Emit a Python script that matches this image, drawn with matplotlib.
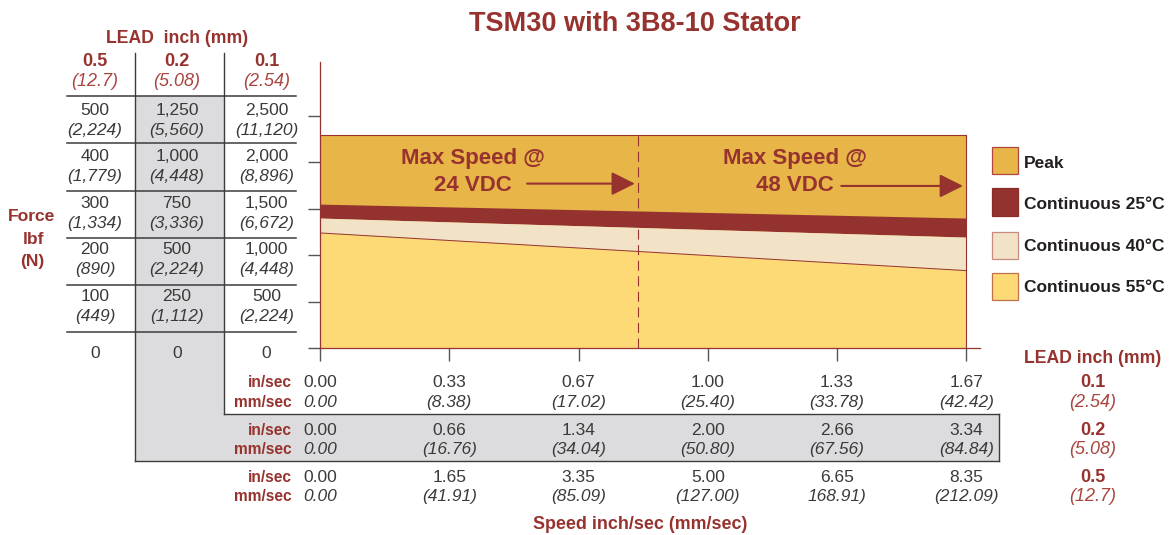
import matplotlib
matplotlib.use('Agg')
import matplotlib.pyplot as plt
from matplotlib.transforms import Affine2D, blended_transform_factory, offset_copy
from matplotlib.patches import Rectangle
from matplotlib.lines import Line2D
from matplotlib import font_manager

# ---------------- data ----------------
title = 'TSM30 with 3B8-10 Stator'
lead_in = ['0.5', '0.2', '0.1']
lead_mm = ['(12.7)', '(5.08)', '(2.54)']

# plot y scale = force (lbf) for 0.1 in lead
force_ticks = [0, 500, 1000, 1500, 2000, 2500]
force_lbf_05 = ['0', '100', '200', '300', '400', '500']
force_n_05 = ['', '(449)', '(890)', '(1,334)', '(1,779)', '(2,224)']
force_lbf_02 = ['0', '250', '500', '750', '1,000', '1,250']
force_n_02 = ['', '(1,112)', '(2,224)', '(3,336)', '(4,448)', '(5,560)']
force_lbf_01 = ['0', '500', '1,000', '1,500', '2,000', '2,500']
force_n_01 = ['', '(2,224)', '(4,448)', '(6,672)', '(8,896)', '(11,120)']

# plot x scale = speed (in/sec) for 0.1 in lead
speed_ticks = [0.0, 0.333, 0.667, 1.0, 1.333, 1.667]
speed_in_01 = ['0.00', '0.33', '0.67', '1.00', '1.33', '1.67']
speed_mm_01 = ['0.00', '(8.38)', '(17.02)', '(25.40)', '(33.78)', '(42.42)']
speed_in_02 = ['0.00', '0.66', '1.34', '2.00', '2.66', '3.34']
speed_mm_02 = ['0.00', '(16.76)', '(34.04)', '(50.80)', '(67.56)', '(84.84)']
speed_in_05 = ['0.00', '1.65', '3.35', '5.00', '6.65', '8.35']
speed_mm_05 = ['0.00', '(41.91)', '(85.09)', '(127.00)', '168.91)', '(212.09)']

# performance curves (x: in/sec, y: lbf, 0.1 in lead)
curve_speed = [0.0, 1.667]
peak_force = [2290, 2290]
cont25_force = [1550, 1400]
cont40_force = [1400, 1195]
cont55_force = [1240, 835]
max_speed_24v = 0.82

legend_labels = ['Peak', 'Continuous 25°C', 'Continuous 40°C', 'Continuous 55°C']

# ---------------- style ----------------
RED = '#97332F'
RED_LIGHT = '#A8453F'
C_PEAK = '#E8B548'
C_25 = '#943230'
C_40 = '#F2E2C6'
C_55 = '#FDDA76'
GRAY = '#DCDCDE'
TXT = '#3A3A3A'
LINE = '#3C3C3C'

names = {f.name for f in font_manager.fontManager.ttflist}
FONT = 'Liberation Sans'
if 'Liberation Sans Narrow' in names:
    TITLE_FONT, TITLE_SIZE = 'Liberation Sans Narrow', 23.5
else:
    TITLE_FONT, TITLE_SIZE = 'Liberation Sans', 19.5
plt.rcParams['font.family'] = [FONT, 'DejaVu Sans']

W, H = 1171, 535
fig = plt.figure(figsize=(W / 100, H / 100), dpi=100)
PX = Affine2D().scale(1 / W, -1 / H).translate(0, 1) + fig.transFigure


def ptext(x, y, s, size, ha='center', color=TXT, **kw):
    """text whose visual centre is at image pixel (x, y)"""
    fig.text(x, y + 0.497 * size, s, transform=PX, ha=ha, va='baseline',
             fontsize=size, color=color, **kw)


def pline(xs, ys, color=LINE, lw=1.0, **kw):
    fig.add_artist(Line2D(xs, ys, transform=PX, color=color, lw=lw, **kw))


# ---------------- axes ----------------
y0, ytop, x0, x1 = 348.3, 62.0, 320.0, 966.5
ax = fig.add_axes([x0 / W, 1 - y0 / H, (x1 - x0) / W, (y0 - ytop) / H])
ax.set_xlim(0, 1.667)
ax.set_ylim(0, 2500 * (y0 - ytop) / (y0 - 115.7))
ax.patch.set_alpha(0)
for s in ['top', 'right', 'bottom']:
    ax.spines[s].set_visible(False)
ax.spines['left'].set_color(RED)
ax.spines['left'].set_linewidth(0.9)
ax.set_xticks(speed_ticks)
ax.set_yticks(force_ticks)
ax.tick_params(axis='y', length=9, width=1.0, color='#555555', labelleft=False)
ax.tick_params(axis='x', length=9.6, width=1.0, color='#555555', labelbottom=False)

ax.fill_between(curve_speed, 0, peak_force, color=C_PEAK, lw=0, zorder=1)
ax.fill_between(curve_speed, cont40_force, cont25_force, color=C_25, lw=0, zorder=2)
ax.fill_between(curve_speed, cont55_force, cont40_force, color=C_40, lw=0, zorder=2)
ax.fill_between(curve_speed, 0, cont55_force, color=C_55, lw=0, zorder=2)
ax.plot(curve_speed, peak_force, color=RED, lw=0.8, zorder=3)
ax.plot(curve_speed, cont55_force, color=RED, lw=0.7, zorder=3)
ax.plot([curve_speed[-1]] * 2, [0, peak_force[-1]], color=RED, lw=0.8, zorder=3, clip_on=False)
ax.plot([0, 1 + 14 / (x1 - x0)], [0, 0], transform=ax.transAxes, color=RED, lw=0.9,
        clip_on=False, zorder=4)
ax.plot([max_speed_24v] * 2, [0, peak_force[0]], color=RED, lw=0.8,
        linestyle=(0, (9, 5)), zorder=3)

akw = dict(arrowstyle='-|>,head_length=0.4,head_width=0.2', color=RED, lw=1.5,
           mutation_scale=36, shrinkA=0, shrinkB=0)
ax.annotate('', xy=(0.812, 1770), xytext=(0.534, 1770), arrowprops=akw, zorder=5)
ax.annotate('', xy=(1.658, 1745), xytext=(1.344, 1745), arrowprops=akw, zorder=5)
ax.text(0.394, 2045, 'Max Speed @', ha='center', va='center', fontsize=16,
        fontweight='bold', color=RED, zorder=5)
ax.text(0.394, 1755, '24 VDC', ha='center', va='center', fontsize=16,
        fontweight='bold', color=RED, zorder=5)
ax.text(1.225, 2045, 'Max Speed @', ha='center', va='center', fontsize=16,
        fontweight='bold', color=RED, zorder=5)
ax.text(1.225, 1745, '48 VDC', ha='center', va='center', fontsize=16,
        fontweight='bold', color=RED, zorder=5)

# ---------------- title ----------------
fig.text(635, 21 + 0.497 * TITLE_SIZE, title, transform=PX, ha='center', va='baseline',
         fontsize=TITLE_SIZE, fontweight='bold', color=RED, family=[TITLE_FONT, FONT])

# ---------------- left force table ----------------
fig.add_artist(Rectangle((135, 96), 89, 365, transform=PX, color=GRAY, lw=0, zorder=0.5))
fig.add_artist(Rectangle((135, 414), 864, 47, transform=PX, color=GRAY, lw=0, zorder=0.5))
pline([135, 135], [53, 461])
pline([224, 224], [53, 414])
pline([224, 999], [414, 414])
pline([999, 999], [414, 461])
pline([135, 999], [461, 461])
for yy in [96, 143.3, 190.7, 237.7, 285, 332]:
    pline([67, 296], [yy, yy], lw=1.1)

ptext(177, 36.7, 'LEAD  inch (mm)', 12.7, color=RED, fontweight='bold')
col_x = [95, 177, 266.5]
for cx, li, lm in zip(col_x, lead_in, lead_mm):
    ptext(cx, 60, li, 13, color=RED, fontweight='bold')
    ptext(cx, 80, lm, 13, color=RED_LIGHT, style='italic')

NUM = 12.5
blend_y = blended_transform_factory(PX, ax.transData)
up = offset_copy(blend_y, fig=fig, y=7 - 0.497 * NUM * 100 / 72 * 0.72, units='dots')
dn = offset_copy(blend_y, fig=fig, y=-13 - 0.497 * NUM * 100 / 72 * 0.72, units='dots')
zr = offset_copy(blend_y, fig=fig, y=-3.4 - 0.497 * NUM * 100 / 72 * 0.72, units='dots')
for cx, lbf, nn in zip(col_x, [force_lbf_05, force_lbf_02, force_lbf_01],
                       [force_n_05, force_n_02, force_n_01]):
    for val, a, b in zip(force_ticks, lbf, nn):
        if b:
            fig.text(cx, val, a, transform=up, ha='center', va='baseline', fontsize=NUM, color=TXT)
            fig.text(cx, val, b, transform=dn, ha='center', va='baseline', fontsize=NUM,
                     color=TXT, style='italic')
        else:
            fig.text(cx, val, a, transform=zr, ha='center', va='baseline', fontsize=NUM, color=TXT)

ptext(32, 215, 'Force', 12.6, color=RED, fontweight='bold')
ptext(33, 238, 'lbf', 12.6, color=RED, fontweight='bold')
ptext(32, 260, '(N)', 12.6, color=RED, fontweight='bold')

# ---------------- speed tables ----------------
blend_x = blended_transform_factory(ax.transData, PX)
rows = [(380.5, 400.5, speed_in_01, speed_mm_01),
        (428.3, 447.5, speed_in_02, speed_mm_02),
        (475.7, 494.5, speed_in_05, speed_mm_05)]
for yi, ym, sin, smm in rows:
    ptext(292, yi + 1, 'in/sec', 11.2, ha='right', color=RED, fontweight='bold')
    ptext(292, ym + 1, 'mm/sec', 11.2, ha='right', color=RED, fontweight='bold')
    for xv, a, b in zip(speed_ticks, sin, smm):
        fig.text(xv, yi + 0.497 * NUM, a, transform=blend_x, ha='center', va='baseline',
                 fontsize=NUM, color=TXT)
        fig.text(xv, ym + 0.497 * NUM, b, transform=blend_x, ha='center', va='baseline',
                 fontsize=NUM, color=TXT, style='italic')

ptext(1093, 356.7, 'LEAD inch (mm)', 12.7, color=RED, fontweight='bold')
for (yi, ym, _, _), li, lm in zip(rows, ['0.1', '0.2', '0.5'], ['(2.54)', '(5.08)', '(12.7)']):
    ptext(1093, yi, li, 13, color=RED, fontweight='bold')
    ptext(1093, ym, lm, 13, color=RED_LIGHT, style='italic')

ptext(640, 523, 'Speed inch/sec (mm/sec)', 12.9, color=RED, fontweight='bold')

# ---------------- legend ----------------
leg_colors = [C_PEAK, C_25, C_40, C_55]
leg_edges = ['#B0463E', '#8A2C28', '#C98A80', '#C0704A']
leg_boxes = [(147, 27), (188, 28), (232, 26.5), (273, 26.5)]
leg_text_y = [161.7, 202.7, 245, 285.5]
for c, e, (top, h), ty, lab in zip(leg_colors, leg_edges, leg_boxes, leg_text_y, legend_labels):
    fig.add_artist(Rectangle((992, top), 26, h, transform=PX, facecolor=c, edgecolor=e, lw=0.9))
    ptext(1024, ty, lab, 12.5, ha='left', color='#231F20', fontweight='bold')

fig.savefig('out.png', dpi=100)
